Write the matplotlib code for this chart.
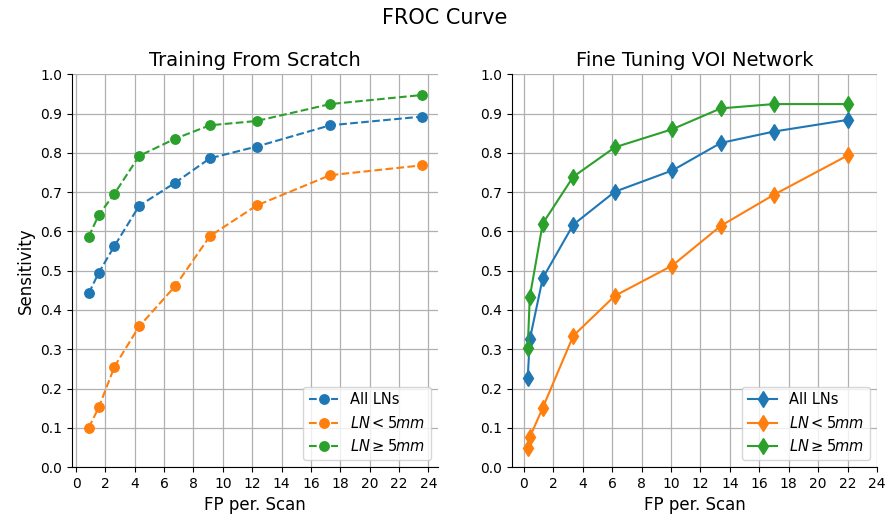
import numpy as np
import matplotlib
matplotlib.use('Agg')
import matplotlib.pyplot as plt

# ── data ────────────────────────────────────────────────────────────
scratch_fp = [0.86, 1.55, 2.62, 4.30, 6.76, 9.12, 12.31, 17.31, 23.54]
scratch_all = [0.442, 0.495, 0.563, 0.665, 0.724, 0.786, 0.816, 0.870, 0.892]
scratch_small = [0.100, 0.152, 0.256, 0.358, 0.461, 0.588, 0.666, 0.743, 0.768]
scratch_large = [0.586, 0.642, 0.696, 0.792, 0.836, 0.870, 0.881, 0.924, 0.947]

tune_fp = [0.27, 0.41, 1.29, 3.36, 6.19, 10.09, 13.38, 16.98, 22.04]
tune_all = [0.227, 0.325, 0.481, 0.617, 0.701, 0.755, 0.825, 0.854, 0.884]
tune_small = [0.049, 0.076, 0.151, 0.334, 0.436, 0.513, 0.614, 0.693, 0.794]
tune_large = [0.304, 0.433, 0.620, 0.739, 0.814, 0.860, 0.913, 0.924, 0.924]

labels = ['All LNs', r'$LN < 5mm$', r'$LN \geq 5mm$']
colors = ['#1f77b4', '#ff7f0e', '#2ca02c']

fig = plt.figure(figsize=(8.89, 5.19), dpi=100)
ax1 = fig.add_axes([0.081, 0.100, 0.412, 0.757])
ax2 = fig.add_axes([0.5756, 0.100, 0.411, 0.757])

panels = [
    (ax1, 'Training From Scratch', scratch_fp,
     [scratch_all, scratch_small, scratch_large], 'o', '--'),
    (ax2, 'Fine Tuning VOI Network', tune_fp,
     [tune_all, tune_small, tune_large], 'd', '-'),
]

for ax, title, fp, series, marker, ls in panels:
    for ys, lab, c in zip(series, labels, colors):
        ax.plot(fp, ys, linestyle=ls, marker=marker, color=c, label=lab,
                markersize=6.8 if marker == 'o' else 8, linewidth=1.5)
    ax.set_xticks(np.arange(0, 25, 2))
    ax.set_ylim(0, 1)
    ax.set_yticks(np.arange(0, 1.01, 0.1))
    ax.set_yticklabels([f'{v:.1f}' for v in np.arange(0, 1.01, 0.1)])
    ax.grid(True, color='#b0b0b0', linewidth=0.9)
    ax.set_axisbelow(True)
    ax.spines['top'].set_visible(False)
    ax.spines['right'].set_visible(False)
    ax.tick_params(labelsize=10)
    ax.set_title(title, fontsize=14)
    ax.set_xlabel('FP per. Scan', fontsize=12)
    ax.legend(loc='lower right', fontsize=10.5)

ax1.set_ylabel('Sensitivity', fontsize=12)
fig.suptitle('FROC Curve', fontsize=15, y=0.985)

fig.savefig('out.png', dpi=100)
